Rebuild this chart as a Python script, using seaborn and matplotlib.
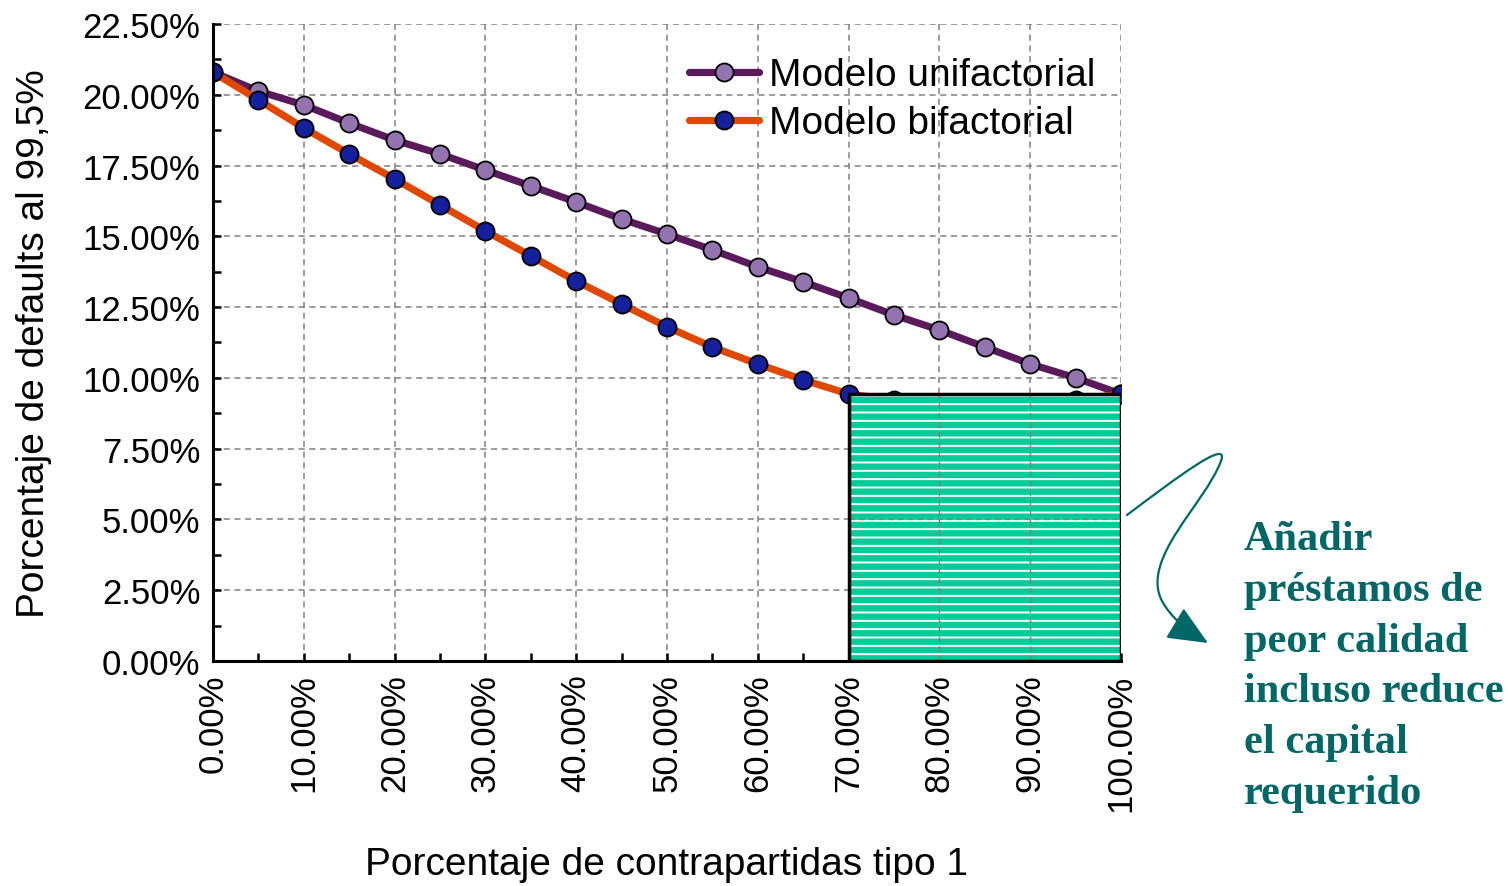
import numpy as np
import pandas as pd
import matplotlib
matplotlib.use("Agg")
import matplotlib.pyplot as plt
import seaborn as sns
from matplotlib.patches import Rectangle, FancyArrowPatch
from matplotlib.path import Path
from matplotlib.ticker import MultipleLocator, FuncFormatter

# Share of type-1 counterparties (%)
share_type1 = [0, 5, 10, 15, 20, 25, 30, 35, 40, 45, 50,
               55, 60, 65, 70, 75, 80, 85, 90, 95, 100]

# 99.5% default rate (%) for each model
one_factor = [20.80, 20.13, 19.64, 19.00, 18.40, 17.91, 17.34, 16.78, 16.21, 15.61, 15.08,
              14.52, 13.92, 13.39, 12.82, 12.22, 11.69, 11.09, 10.49, 10.00, 9.43]
two_factor = [20.80, 19.82, 18.83, 17.91, 17.03, 16.11, 15.19, 14.31, 13.42, 12.61, 11.80,
              11.09, 10.49, 9.93, 9.43, 9.22, 9.08, 9.04, 9.11, 9.22, 9.43]

series_names = ["Modelo unifactorial", "Modelo bifactorial"]
x_label = "Porcentaje de contrapartidas tipo 1"
y_label = "Porcentaje de defaults al 99,5%"
note_text = "Añadir\npréstamos de\npeor calidad\nincluso reduce\nel capital\nrequerido"

sns.set_theme(style="white")
plt.rcParams["font.family"] = ["Liberation Sans", "DejaVu Sans"]
plt.rcParams["text.color"] = "black"
plt.rcParams["axes.labelcolor"] = "black"

fig = plt.figure(figsize=(15.08, 8.87), dpi=100)
ax = fig.add_axes([0.1412, 0.2537, 0.6022, 0.7181])

df = pd.DataFrame({"share": share_type1, "one": one_factor, "two": two_factor})

sns.lineplot(data=df, x="share", y="one", ax=ax, color="#5a1a5c", linewidth=5.2,
             marker="o", markersize=13, markerfacecolor="#9474b0",
             markeredgecolor="black", markeredgewidth=1.3, label=series_names[0],
             zorder=3)
sns.lineplot(data=df, x="share", y="two", ax=ax, color="#e04800", linewidth=5.2,
             marker="o", markersize=13, markerfacecolor="#14209c",
             markeredgecolor="black", markeredgewidth=1.3, label=series_names[1],
             zorder=4)

# Highlighted region: last 30% of the range, up to the final two-factor level
x0 = share_type1[14]
x1 = share_type1[-1]
h = two_factor[-1]
plt.rcParams["hatch.linewidth"] = 1.4
ax.add_patch(Rectangle((x0, 0), x1 - x0, h, facecolor="#00cc99",
                       edgecolor="white", hatch="--", linewidth=0, zorder=5))
ax.add_patch(Rectangle((x0, 0), x1 - x0, h, facecolor="none",
                       edgecolor="black", linewidth=2.5, zorder=6))
for gx in [80, 90]:
    ax.plot([gx, gx], [0, h], color="#808080", linestyle=(0, (4, 3)),
            linewidth=1.0, zorder=5.5)
ax.plot([x0, x1], [5, 5], color="#808080", linestyle=(0, (4, 3)),
        linewidth=1.0, zorder=5.5)

ax.set_xlim(0, 100)
ax.set_ylim(0, 22.5)
ax.xaxis.set_major_locator(MultipleLocator(10))
ax.xaxis.set_minor_locator(MultipleLocator(5))
ax.yaxis.set_major_locator(MultipleLocator(2.5))
ax.yaxis.set_minor_locator(MultipleLocator(1.25))
pct = FuncFormatter(lambda v, p: f"{v:.2f}%")
ax.xaxis.set_major_formatter(pct)
ax.yaxis.set_major_formatter(pct)

ax.grid(True, which="major", color="#808080", linestyle=(0, (4, 3)), linewidth=1.1)
ax.set_axisbelow(True)

for s in ["top", "right"]:
    ax.spines[s].set_visible(False)
for s in ["left", "bottom"]:
    ax.spines[s].set_color("black")
    ax.spines[s].set_linewidth(2.2)
    ax.spines[s].set_zorder(7)

ax.tick_params(axis="both", which="major", direction="in", length=6, width=1.8,
               colors="black", labelsize=25, pad=9, left=True, bottom=True)
ax.tick_params(axis="both", which="minor", direction="in", length=6, width=1.8,
               colors="black", left=True, bottom=True)
for t in ax.get_xticklabels():
    t.set_rotation(90)

ax.set_xlabel(x_label, fontsize=28, color="black", va="center")
ax.xaxis.set_label_coords(0.5, -0.319)
ax.set_ylabel(y_label, fontsize=28, color="black", labelpad=22)

leg = ax.legend(loc="upper right", bbox_to_anchor=(0.993, 0.978), frameon=False,
                fontsize=28, handlelength=1.8, handletextpad=0.25, labelspacing=0.3,
                borderaxespad=0.1)
for t in leg.get_texts():
    t.set_color("black")

# Side note with curved arrow
fig.text(1244 / 1508, 1 - 521 / 887, note_text, fontsize=30.5, fontweight="bold",
         family=["Liberation Serif"], color="#006666", ha="left", va="top",
         linespacing=1.44)

W, H = 1508, 887
pts = [(1127, 516), (1175, 480), (1230, 438), (1221, 462),
       (1205, 505), (1140, 560), (1162, 602),
       (1172, 620), (1188, 632), (1208, 644)]
codes = [Path.MOVETO] + [Path.CURVE4] * 9
verts = [(x / W, 1 - y / H) for x, y in pts]
arrow = FancyArrowPatch(path=Path(verts, codes), transform=fig.transFigure,
                        arrowstyle="-|>,head_length=1.25,head_width=0.55",
                        mutation_scale=20, color="#006666", linewidth=1.6)
fig.patches.append(arrow)

fig.savefig("out.png", dpi=100)
